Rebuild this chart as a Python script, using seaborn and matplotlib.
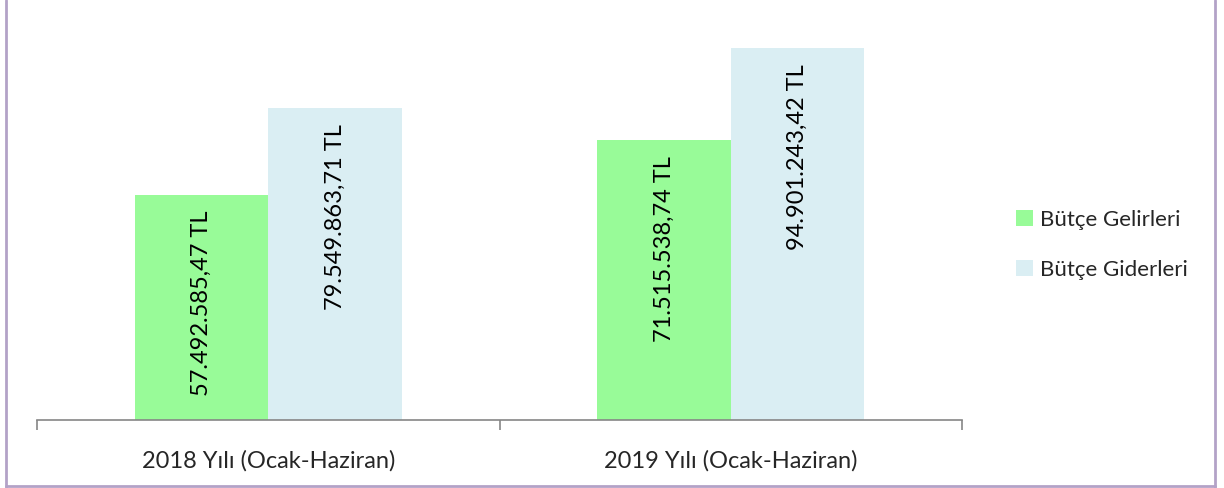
import pandas as pd
import seaborn as sns
import matplotlib.pyplot as plt
from matplotlib.lines import Line2D
from matplotlib.ticker import FixedLocator

# Data
periods = ["2018 Yılı (Ocak-Haziran)", "2019 Yılı (Ocak-Haziran)"]
series = ["Bütçe Gelirleri", "Bütçe Giderleri"]
gelirler = [57492585.47, 71515538.74]
giderler = [79549863.71, 94901243.42]
labels_gelir = ["57.492.585,47 TL", "71.515.538,74 TL"]
labels_gider = ["79.549.863,71 TL", "94.901.243,42 TL"]
colors = ["#98FB98", "#DAEEF3"]

df = pd.DataFrame({
    "period": periods * 2,
    "series": [series[0]] * 2 + [series[1]] * 2,
    "value": gelirler + giderler,
    "label": labels_gelir + labels_gider,
})

sns.set_style("white")
plt.rcParams['font.family'] = ['Lato', 'DejaVu Sans']

fig = plt.figure(figsize=(12.24, 4.88), dpi=100)
ax = fig.add_axes([37 / 1224, 68 / 488, (962 - 37) / 1224, 392 / 488])

sns.barplot(data=df, x="period", y="value", hue="series", palette=colors,
            width=0.577, gap=0, saturation=1, linewidth=0, ax=ax, legend=True)

ax.set_ylim(0, 100e6)
ax.set_xlim(-0.5, 1.5)

# Value labels inside the bars, near the top
for container, labs in zip(ax.containers, [labels_gelir, labels_gider]):
    for bar, lab in zip(container, labs):
        x = bar.get_x() + bar.get_width() / 2
        y = bar.get_height()
        ax.annotate(lab, (x, y), xytext=(0, -16), textcoords="offset pixels",
                    rotation=90, ha="center", va="top", fontsize=17, color="black")

# Axes styling
for s in ["top", "right", "left"]:
    ax.spines[s].set_visible(False)
ax.spines["bottom"].set_color("#868686")
ax.spines["bottom"].set_linewidth(1.2)
ax.set_yticks([])
ax.set_xlabel("")
ax.set_ylabel("")
ax.tick_params(axis="x", which="major", length=0, labelsize=17, pad=22)
ax.xaxis.set_minor_locator(FixedLocator([-0.5, 0.5, 1.5]))
ax.tick_params(axis="x", which="minor", length=7, color="#868686", width=1.2, direction="out", bottom=True)

# Legend
handles, lbls = ax.get_legend_handles_labels()
ax.legend(handles, lbls, loc="center left", bbox_to_anchor=(996 / 1224, 243 / 488),
          bbox_transform=fig.transFigure, frameon=False, fontsize=16,
          handlelength=0.75, handleheight=0.75, handletextpad=0.35, labelspacing=1.35)

# Frame around the chart area (left, right, bottom)
border = "#B3A2C7"
fig.add_artist(Line2D([6 / 1224, 6 / 1224], [0, 1], color=border, lw=2, transform=fig.transFigure))
fig.add_artist(Line2D([1215 / 1224, 1215 / 1224], [0, 1], color=border, lw=2, transform=fig.transFigure))
fig.add_artist(Line2D([6 / 1224, 1215 / 1224], [2 / 488, 2 / 488], color=border, lw=2, transform=fig.transFigure))

fig.savefig("out.png", dpi=100)
